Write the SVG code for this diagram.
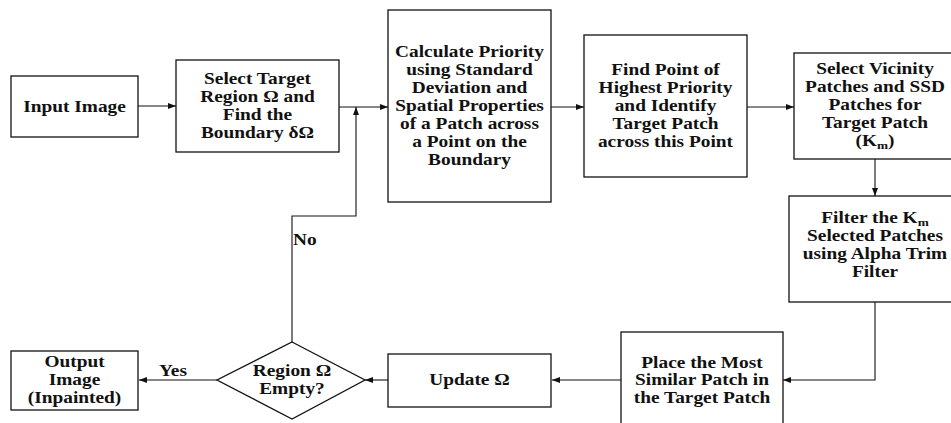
<svg xmlns="http://www.w3.org/2000/svg" width="951" height="423" viewBox="0 0 951 423">
<style>
.box{fill:#fff;stroke:#111;stroke-width:1.3}
.ln{fill:none;stroke:#111;stroke-width:1.1}
.t{font-family:"Liberation Serif","Times New Roman",serif;font-weight:bold;font-size:16px;fill:#111;text-anchor:middle}
.s{text-anchor:start}
.sub{font-size:11px}
</style>
<defs>
<marker id="ah" markerUnits="userSpaceOnUse" markerWidth="9" markerHeight="7" refX="8" refY="3" orient="auto">
<path d="M0,0 L8,3 L0,6 z" fill="#111"/>
</marker>
</defs>
<rect width="951" height="423" fill="#fff"/>
<g id="connectors">
<line class="ln" x1="138" y1="106" x2="176" y2="106" marker-end="url(#ah)"/>
<line class="ln" x1="339" y1="107" x2="388" y2="107" marker-end="url(#ah)"/>
<line class="ln" x1="551" y1="107" x2="584" y2="107" marker-end="url(#ah)"/>
<line class="ln" x1="747" y1="107" x2="794" y2="107" marker-end="url(#ah)"/>
<line class="ln" x1="875" y1="159" x2="875" y2="196" marker-end="url(#ah)"/>
<polyline class="ln" points="875,302 875,380 783,380" marker-end="url(#ah)"/>
<line class="ln" x1="621" y1="380" x2="552" y2="380" marker-end="url(#ah)"/>
<line class="ln" x1="388" y1="380" x2="365" y2="380" marker-end="url(#ah)"/>
<line class="ln" x1="217" y1="380" x2="139" y2="380" marker-end="url(#ah)"/>
<polyline class="ln" points="292,342 292,216 356,216 356,107" marker-end="url(#ah)"/>
<text class="t s" transform="translate(293 0) scale(1.21 1)" x="0" y="245">No</text>
<text class="t" transform="translate(173 0) scale(1.21 1)" x="0" y="376">Yes</text>
</g>
<g id="input">
<rect class="box" x="11" y="76" width="127" height="61"/>
<text class="t" transform="translate(74.5 0) scale(1.21 1)" x="0" y="112">Input Image</text>
</g>
<g id="select">
<rect class="box" x="176" y="60" width="163" height="92"/>
<text class="t" transform="translate(257.5 0) scale(1.21 1)"><tspan x="0" y="84">Select Target</tspan><tspan x="0" y="102">Region Ω and</tspan><tspan x="0" y="120">Find the</tspan><tspan x="0" y="138">Boundary δΩ</tspan></text>
</g>
<g id="calculate">
<rect class="box" x="388" y="10" width="163" height="192"/>
<text class="t" transform="translate(469.5 0) scale(1.21 1)"><tspan x="0" y="57">Calculate Priority</tspan><tspan x="0" y="75">using Standard</tspan><tspan x="0" y="93">Deviation and</tspan><tspan x="0" y="111">Spatial Properties</tspan><tspan x="0" y="129">of a Patch across</tspan><tspan x="0" y="147">a Point on the</tspan><tspan x="0" y="165">Boundary</tspan></text>
</g>
<g id="find">
<rect class="box" x="584" y="35" width="163" height="142"/>
<text class="t" transform="translate(665.5 0) scale(1.21 1)"><tspan x="0" y="75">Find Point of</tspan><tspan x="0" y="93">Highest Priority</tspan><tspan x="0" y="111">and Identify</tspan><tspan x="0" y="129">Target Patch</tspan><tspan x="0" y="147">across this Point</tspan></text>
</g>
<g id="vicinity">
<rect class="box" x="794" y="53" width="162" height="106"/>
<text class="t" transform="translate(875 0) scale(1.21 1)"><tspan x="0" y="74">Select Vicinity</tspan><tspan x="0" y="92">Patches and SSD</tspan><tspan x="0" y="110">Patches for</tspan><tspan x="0" y="128">Target Patch</tspan><tspan x="0" y="146">(K<tspan class="sub" dy="3">m</tspan><tspan dy="-3">)</tspan></tspan></text>
</g>
<g id="filter">
<rect class="box" x="789" y="196" width="172" height="106"/>
<text class="t" transform="translate(875 0) scale(1.21 1)"><tspan x="0" y="223">Filter the K<tspan class="sub" dy="3">m</tspan></tspan><tspan x="0" y="241">Selected Patches</tspan><tspan x="0" y="259">using Alpha Trim</tspan><tspan x="0" y="277">Filter</tspan></text>
</g>
<g id="place">
<rect class="box" x="621" y="332" width="162" height="96"/>
<text class="t" transform="translate(702 0) scale(1.21 1)"><tspan x="0" y="368">Place the Most</tspan><tspan x="0" y="385">Similar Patch in</tspan><tspan x="0" y="403">the Target Patch</tspan></text>
</g>
<g id="update">
<rect class="box" x="388" y="354" width="163" height="53"/>
<text class="t" transform="translate(469.5 0) scale(1.21 1)" x="0" y="385">Update Ω</text>
</g>
<g id="decision">
<polygon class="box" points="292,342 365,380 292,419 217,380"/>
<text class="t" transform="translate(292 0) scale(1.21 1)"><tspan x="0" y="376">Region Ω</tspan><tspan x="0" y="394">Empty?</tspan></text>
</g>
<g id="output">
<rect class="box" x="11" y="351" width="127" height="59"/>
<text class="t" transform="translate(74.5 0) scale(1.21 1)"><tspan x="0" y="367">Output</tspan><tspan x="0" y="385">Image</tspan><tspan x="0" y="403">(Inpainted)</tspan></text>
</g>
</svg>
